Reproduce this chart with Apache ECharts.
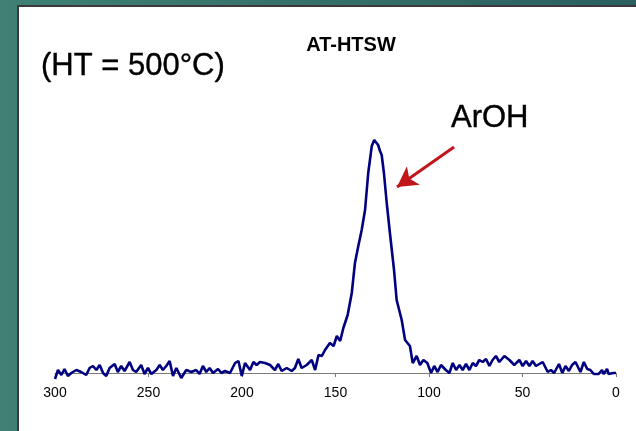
<!DOCTYPE html>
<html>
<head>
<meta charset="utf-8">
<script src="https://cdn.jsdelivr.net/npm/echarts@6/dist/echarts.min.js"></script>
<style>
  html, body { margin: 0; padding: 0; width: 636px; height: 431px; overflow: hidden;
    background: linear-gradient(90deg, #3f8174 0%, #356f6a 50%, #2b5f60 100%); }
  #panel { position: absolute; left: 17px; top: 5px; width: 619px; height: 426px;
    background: #ffffff; border-left: 2px solid #3a3a3a; border-top: 2px solid #3a3a3a; box-sizing: border-box; }
  #chart { position: absolute; left: 0; top: 0; width: 636px; height: 431px; }
</style>
</head>
<body>
<div id="panel"></div>
<div id="chart"></div>
<script>
// chemical shift (ppm) and signal intensity
const shifts = [
  300, 298.4, 296.6, 294.9, 293.1, 291.3, 288.6, 286, 283.3, 281.5,
  279.7, 277.9, 276.1, 274.3, 272.6, 270.8, 268.1, 266.4, 264.6, 262.8,
  260.1, 258.3, 256.6, 253.9, 252.1, 250.3, 248.5, 245.8, 244, 242.3,
  240.5, 238.7, 236.9, 235.1, 232.5, 229.8, 227.1, 224.5, 222.7, 220.9,
  219.1, 217.3, 215.5, 212.8, 211, 209.1, 206.4, 203.7, 201.9, 200.1,
  198.4, 195.7, 193.9, 192.2, 190.4, 187.7, 185, 182.4, 180.6, 178.8,
  176.1, 173.4, 171.7, 169.9, 168.1, 165.4, 162.7, 160.9, 159.1, 157.3,
  155.6, 153, 151, 149.3, 147.5, 145.8, 143.5, 141.3, 139.6, 137.8,
  136, 134.2, 132.5, 130.6, 129.3, 128.3, 127.2, 126.2, 125.3, 124.1,
  122.6, 120.9, 118.7, 117.3, 114.6, 112.8, 110.2, 108.7, 106.6, 104.8,
  103, 100.9, 98.9, 97.2, 95.4, 93.6, 91, 89.1, 87.3, 85.5,
  83.7, 82, 80.2, 78.4, 76.6, 74.9, 73.1, 71.3, 69.5, 67.7,
  66, 64.2, 62.4, 59.7, 57, 54.4, 51.7, 49.9, 48.1, 46.3,
  44.6, 42.8, 39.2, 36.5, 34.8, 33.1, 30.5, 28.7, 27, 25.2,
  23.5, 21.7, 19, 17.2, 15.4, 13.7, 11.9, 9.3, 7.5, 6.6,
  4.8, 3.9, 1.5, 0
];
const intensity = [
  -6, 3, -2, 4, -3, 0, 3, 1, -2, 5,
  7, 3, 8, 0, -3, 5, 9, 1, 7, 2,
  11, 3, 1, 8, -1, 5, -1, 3, 8, 3,
  7, 12, -3, 5, -5, 3, 1, 3, -1, 7,
  1, 5, 0, 4, 0, 2, 0, 10, 12, -3,
  10, 3, 11, 8, 11, 10, 8, 3, 9, 2,
  5, 2, 5, 14, 5, 8, 13, 3, 18, 17,
  23, 30, 27, 37, 32, 45, 58, 80, 110, 127,
  143, 163, 200, 227, 233, 235, 228, 222, 218, 200,
  170, 140, 103, 73, 53, 33, 27, 10, 17, 8,
  13, 10, 0, 7, 1, 8, 3, 0, 10, 3,
  8, 3, 9, 3, 10, 7, 13, 11, 14, 7,
  13, 17, 11, 17, 13, 8, 13, 7, 12, 7,
  12, 7, 11, 1, 3, 0, 9, 0, 7, 2,
  8, 11, 1, 11, 4, 3, -1, -1, 3, -1,
  4, -1, 0, 0
];
const xTicks = [300, 250, 200, 150, 100, 50, 0];
// arrow annotation (data coordinates): tail -> head
const arrowTail = [86.6, 226];
const arrowHead = [117.1, 186];

const FONT = "'Liberation Sans', Arial, sans-serif";
const chart = echarts.init(document.getElementById('chart'), null, { renderer: 'canvas' });
chart.setOption({
  backgroundColor: 'transparent',
  animation: false,
  grid: { left: 55, right: 20, top: 123, bottom: 48 },
  xAxis: {
    type: 'value', inverse: true, min: 0, max: 300, interval: 50,
    axisLine: { show: true, onZero: true, lineStyle: { color: '#7a7a7a', width: 1 } },
    axisTick: { show: true, length: 4, lineStyle: { color: '#7a7a7a' } },
    splitLine: { show: false },
    axisLabel: { color: '#000', fontSize: 14, fontFamily: FONT, margin: 3,
      formatter: v => xTicks.includes(v) ? String(v) : '' }
  },
  yAxis: { type: 'value', min: -10, max: 250, show: false, splitLine: { show: false } },
  graphic: [
    { type: 'text', style: { text: '(HT = 500°C)', x: 41, y: 66, font: '31px ' + FONT,
        fill: '#000', stroke: '#000', lineWidth: 0.4, textAlign: 'left', textVerticalAlign: 'middle' } },
    { type: 'text', style: { text: 'AT-HTSW', x: 351, y: 45, font: 'bold 20px ' + FONT,
        fill: '#000', textAlign: 'center', textVerticalAlign: 'middle' } },
    { type: 'text', style: { text: 'ArOH', x: 451, y: 118, font: '31px ' + FONT,
        fill: '#000', stroke: '#000', lineWidth: 0.4, textAlign: 'left', textVerticalAlign: 'middle' } }
  ],
  series: [{
    type: 'line',
    data: shifts.map((s, i) => [s, intensity[i]]),
    showSymbol: false,
    symbol: 'none',
    lineStyle: { color: '#000080', width: 2.6 },
    markLine: {
      silent: true,
      symbol: ['none', 'arrow'],
      symbolSize: [17, 20],
      label: { show: false },
      lineStyle: { color: '#c0161c', width: 3, type: 'solid' },
      data: [[{ coord: arrowTail }, { coord: arrowHead }]]
    }
  }]
});
</script>
</body>
</html>
